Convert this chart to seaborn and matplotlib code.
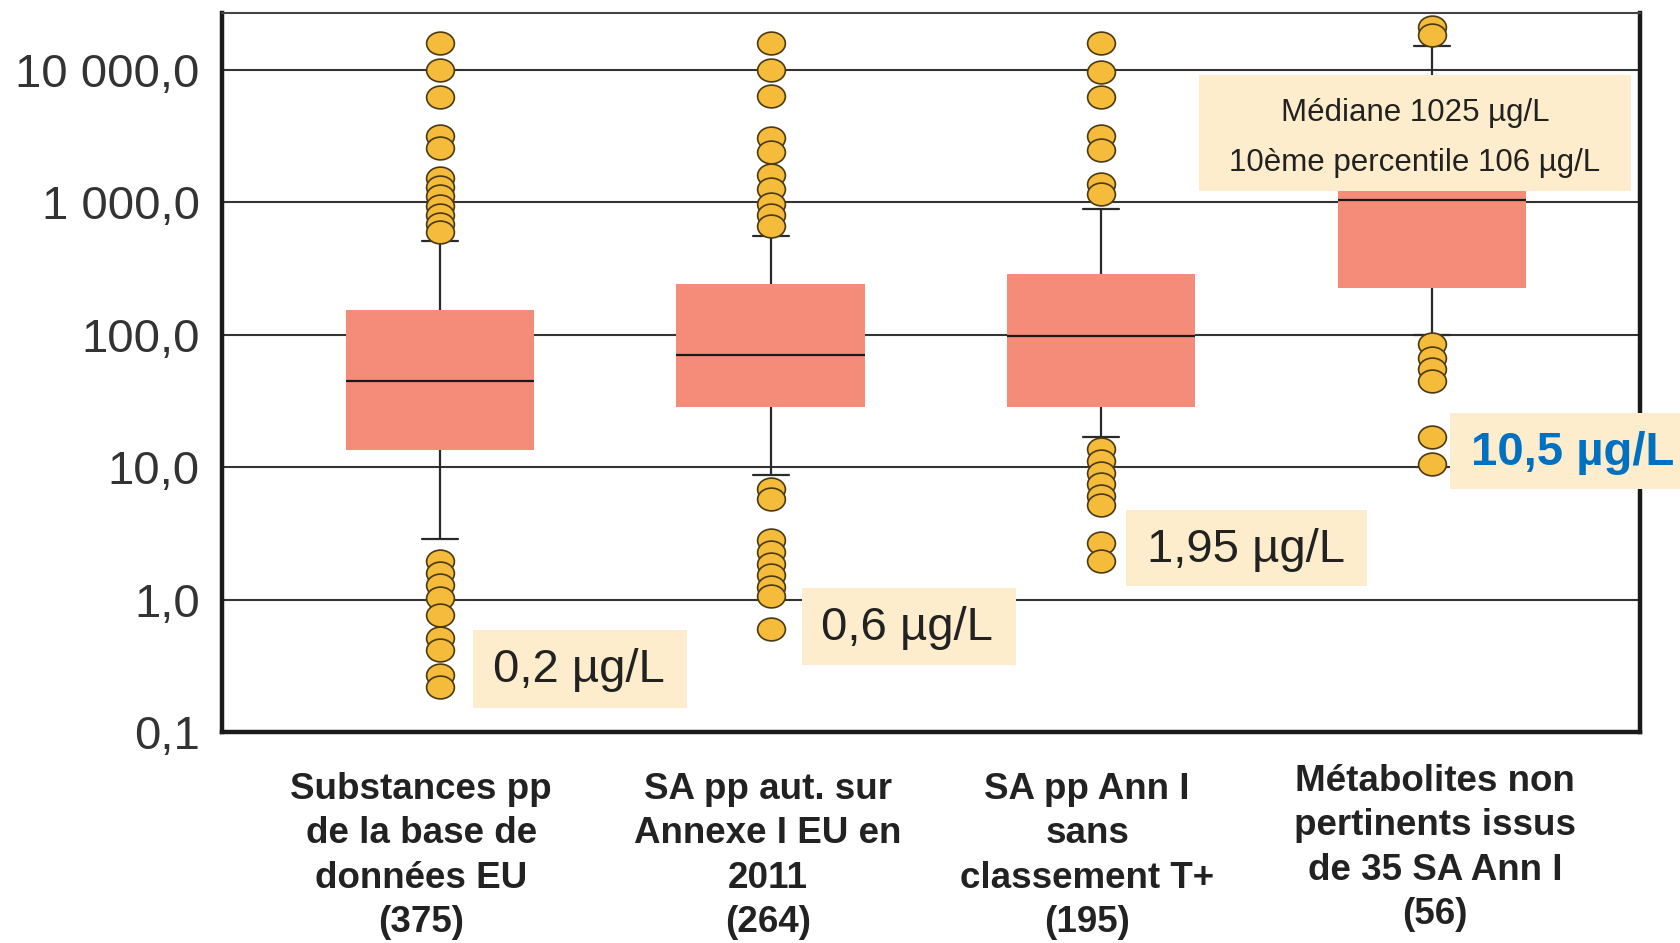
import pandas as pd
import matplotlib.pyplot as plt
import seaborn as sns
from matplotlib.patches import Rectangle
from matplotlib.path import Path
from matplotlib.ticker import FixedLocator, NullLocator
from matplotlib.transforms import ScaledTranslation

# categories (x labels) in order
groupes = ['Substances pp\nde la base de\ndonnées EU\n(375)',
           'SA pp aut. sur\nAnnexe I EU en\n2011\n(264)',
           'SA pp Ann I\nsans\nclassement T+\n(195)',
           'Métabolites non\npertinents issus\nde 35 SA Ann I\n(56)']

# box statistics (µg/L): whisker low, Q1, median, Q3, whisker high
moustache_bas = [2.85, 8.8, 16.8, 100]
q1 = [13.5, 28.3, 28.3, 224]
mediane = [45, 71, 98, 1040]
q3 = [153, 242, 290, 1350]
moustache_haut = [515, 560, 890, 15200]

# outliers (µg/L)
extremes_1 = [16000, 10000, 6300, 3200, 2570, 1540, 1310, 1110, 945, 803, 683, 603,
              1.95, 1.59, 1.30, 1.02, 0.77, 0.51, 0.415, 0.27, 0.22]
extremes_2 = [16000, 10000, 6400, 3080, 2410, 1600, 1260, 980, 800, 660,
              6.9, 5.8, 2.81, 2.29, 1.87, 1.53, 1.25, 1.06, 0.6]
extremes_3 = [16000, 9600, 6300, 3200, 2510, 1370, 1160,
              13.7, 11.2, 9.1, 7.5, 6.1, 5.2, 2.7, 1.95]
extremes_4 = [21000, 18500, 86, 67, 55, 45, 16.8, 10.5]

y_ticks = [0.1, 1, 10, 100, 1000, 10000]
y_labels = ['0,1', '1,0', '10,0', '100,0', '1 000,0', '10 000,0']

sns.set_style('white')
plt.rcParams['font.family'] = ['Liberation Sans', 'DejaVu Sans']

# long-form tables
boites = []
for i, g in enumerate(groupes):
    for v in [moustache_bas[i], q1[i], mediane[i], q3[i], moustache_haut[i]]:
        boites.append({'groupe': g, 'valeur': v})
boites = pd.DataFrame(boites)

points = []
for g, ext in zip(groupes, [extremes_1, extremes_2, extremes_3, extremes_4]):
    for v in ext:
        points.append({'groupe': g, 'valeur': v})
points = pd.DataFrame(points)

W, H = 1681, 943
fig = plt.figure(figsize=(W / 100, H / 100), dpi=100)
ax = fig.add_axes([222 / W, 1 - 732 / H, (1640 - 222) / W, (732 - 13) / H])

couleur_boite = '#F58B79'
sns.boxplot(data=boites, x='groupe', y='valeur', order=groupes, ax=ax,
            log_scale=True, whis=(0, 100), showfliers=False, width=0.57,
            color=couleur_boite, saturation=1, linecolor='#2a2a2a', linewidth=1.6,
            boxprops={'edgecolor': couleur_boite, 'linewidth': 0},
            medianprops={'color': '#1a1a1a', 'linewidth': 1.6})

# shorten whisker caps (caps are the short horizontal lines)
for ln in ax.lines:
    xd = ln.get_xdata()
    yd = ln.get_ydata()
    if len(xd) == 2 and yd[0] == yd[1] and 0 < abs(xd[1] - xd[0]) < 0.4:
        c = (xd[0] + xd[1]) / 2
        ln.set_xdata([c - 0.055, c + 0.055])

# slightly flattened circle, as in the original
cercle = Path.unit_circle()
ellipse = Path(cercle.vertices * [1.0, 0.82], cercle.codes)

sns.stripplot(data=points, x='groupe', y='valeur', order=groupes, ax=ax,
              jitter=False, size=20, marker=ellipse, color='#F5BB3A',
              edgecolor='#4a3a12', linewidth=1.2, zorder=4)

ax.set_yscale('log')
ax.set_ylim(0.1, 27000)
ax.set_xlim(-0.66, 3.63)
ax.yaxis.set_major_locator(FixedLocator(y_ticks))
ax.yaxis.set_minor_locator(NullLocator())
ax.set_yticklabels(y_labels, fontsize=34, color='#333333')
ax.set_xticks(range(len(groupes)))
ax.set_xticklabels(groupes, fontsize=26.5, fontweight='bold', color='#222222',
                   linespacing=1.34)
ax.tick_params(axis='both', length=0)
ax.tick_params(axis='y', pad=16)
ax.tick_params(axis='x', pad=29)
ax.set_xlabel('')
ax.set_ylabel('')

# small horizontal / vertical offsets of the category labels
decalages = [(-19, 0), (-3, 0), (-14, 0), (3, 8)]
for lab, (dx, dy) in zip(ax.get_xticklabels(), decalages):
    lab.set_transform(lab.get_transform() + ScaledTranslation(dx / 100, dy / 100, fig.dpi_scale_trans))

ax.yaxis.grid(True, color='#333333', linewidth=1.5)
ax.set_axisbelow(True)
for s in ['left', 'bottom', 'right']:
    ax.spines[s].set_linewidth(3.2)
    ax.spines[s].set_color('#1a1a1a')
ax.spines['top'].set_linewidth(1.5)
ax.spines['top'].set_color('#444444')

# annotation boxes (figure pixels)
beige = '#FDEDCC'


def encadre(x0, y0, x1, y1):
    fig.add_artist(Rectangle((x0 / W, 1 - y1 / H), (x1 - x0) / W, (y1 - y0) / H,
                             transform=fig.transFigure, facecolor=beige,
                             edgecolor='none', zorder=5))


encadre(473, 630, 687, 708)
fig.text(579 / W, 1 - 670 / H, '0,2 µg/L', fontsize=34, color='#222222',
         ha='center', va='center', zorder=6)
encadre(802, 588, 1016, 665)
fig.text(907 / W, 1 - 628 / H, '0,6 µg/L', fontsize=34, color='#222222',
         ha='center', va='center', zorder=6)
encadre(1126, 510, 1367, 586)
fig.text(1246 / W, 1 - 550 / H, '1,95 µg/L', fontsize=34, color='#222222',
         ha='center', va='center', zorder=6)
encadre(1450, 413, 1681, 489)
fig.text(1573 / W, 1 - 453 / H, '10,5 µg/L', fontsize=34, color='#0070C0',
         fontweight='bold', ha='center', va='center', zorder=6)
encadre(1199, 75, 1631, 191)
fig.text(1415 / W, 1 - 113 / H, 'Médiane 1025 µg/L', fontsize=22.5,
         color='#222222', ha='center', va='center', zorder=6)
fig.text(1415 / W, 1 - 163 / H, '10ème percentile 106 µg/L', fontsize=22.5,
         color='#222222', ha='center', va='center', zorder=6)

fig.savefig('out.png', dpi=100)
